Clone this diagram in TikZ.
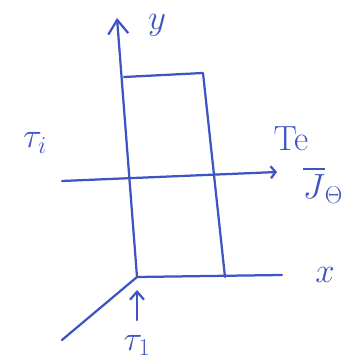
\documentclass[tikz,border=0pt]{standalone}
\usepackage{amsmath,amssymb}
\usepackage{xcolor}
\usetikzlibrary{arrows.meta,positioning,calc}

\definecolor{pen}{RGB}{62,84,196}

\begin{document}
\begin{tikzpicture}[
	pen line/.style={draw=pen,line width=1.6pt,line cap=round,line join=round},
	lbl/.style={text=pen,font=\fontsize{27}{29}\selectfont,inner sep=0pt}]
	\useasboundingbox (-3.425,-2.175) rectangle (5.35,6.925);
	% axes
	\coordinate (O) at (0,0);
	\coordinate (ytop) at (-0.5,6.475);
	\coordinate (xend) at (3.625,0.05);
	\coordinate (zend) at (-1.875,-1.575);
	\draw[pen line,-{Straight Barb[length=3.5mm,width=5mm]}] (O) -- (ytop);
	\draw[pen line] (O) -- (xend);
	\draw[pen line] (O) -- (zend);
	\node[lbl] (ylab) at (0.5,6.28) {$y$};
	\node[lbl] (xlab) at (4.7,0.05) {$x$};

	% slab
	\coordinate (tl) at (-0.325,5.0);
	\coordinate (tr) at (1.65,5.1);
	\coordinate (br) at (2.2,0);
	\draw[pen line] (tl) -- (tr) -- (br);

	% flux line
	\coordinate (fin) at (-1.875,2.4);
	\coordinate (fout) at (3.5,2.625);
	\draw[pen line,-{Straight Barb[length=1.2mm,width=3mm]}] (fin) -- (fout);
	\node[lbl] (Ti) at (-2.55,3.35) {$\tau_i$};
	\node[lbl] (Te) at (3.85,3.45) {$\mathrm{Te}$};
	\node[lbl] (J) at (4.65,2.3) {$\overline{J}_{\Theta}$};

	% bottom arrow
	\coordinate (afoot) at (0,-1.075);
	\coordinate (ahead) at (0,-0.325);
	\draw[pen line,-{Straight Barb[length=2mm,width=3.5mm]}] (afoot) -- (ahead);
	\node[lbl] (Tb) at (0,-1.72) {$\tau_1$};
\end{tikzpicture}
\end{document}
